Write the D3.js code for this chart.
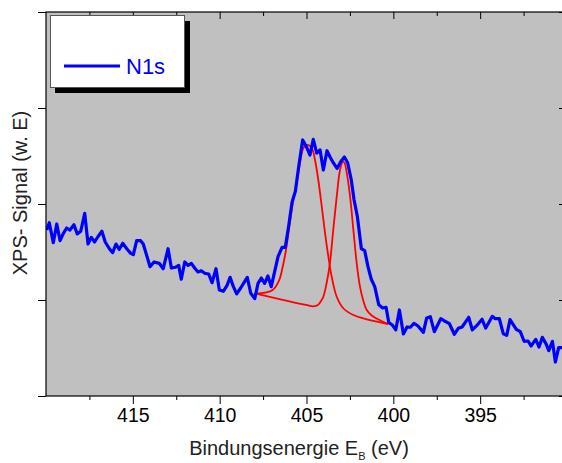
<!DOCTYPE html>
<html>
<head>
<meta charset="utf-8">
<script src="https://cdn.jsdelivr.net/npm/d3@7"></script>
<style>
  body { margin: 0; background: #fff; }
  svg { display: block; }
</style>
</head>
<body>
<div id="chart"></div>
<script>
// N1s XPS spectrum, binding energy in eV, signal in arbitrary units
const spectrumEnergy = [
  419.96, 419.81, 419.58, 419.38, 419.19, 419.00, 418.81, 418.62, 418.39, 418.20,
  418.00, 417.77, 417.58, 417.39, 417.20, 417.01, 416.78, 416.59, 416.35, 416.16,
  415.97, 415.78, 415.58, 415.35, 415.12, 414.97, 414.78, 414.55, 414.40, 414.17,
  414.01, 413.78, 413.48, 413.25, 412.97, 412.78, 412.55, 412.36, 412.21, 412.01,
  411.82, 411.63, 411.44, 411.25, 411.06, 410.86, 410.63, 410.44, 410.21, 410.02,
  409.79, 409.59, 409.40, 409.21, 409.02, 408.79, 408.60, 408.41, 408.21, 407.98,
  407.79, 407.60, 407.41, 407.22, 407.03, 406.83, 406.64, 406.41, 406.22, 406.02,
  405.83, 405.64, 405.45, 405.22, 404.99, 404.80, 404.61, 404.41, 404.22, 404.03,
  403.82, 403.65, 403.46, 403.24, 403.03, 402.82, 402.63, 402.42, 402.26, 402.07,
  401.84, 401.65, 401.46, 401.27, 401.07, 400.84, 400.61, 400.42, 400.26, 400.06,
  399.86, 399.65, 399.42, 399.21, 399.02, 398.81, 398.58, 398.27, 398.08, 397.87,
  397.64, 397.27, 397.08, 396.77, 396.49, 396.26, 396.04, 395.66, 395.45, 395.20,
  394.89, 394.68, 394.30, 394.13, 393.90, 393.67, 393.47, 393.28, 392.92, 392.69,
  392.47, 392.24, 392.07, 391.80, 391.61, 391.42, 391.19, 391.05, 390.84, 390.67,
  390.48, 390.29, 390.05
];
const spectrumSignal = [
  1.729, 1.805, 1.597, 1.792, 1.618, 1.695, 1.750, 1.729, 1.784, 1.688,
  1.716, 1.903, 1.583, 1.653, 1.604, 1.659, 1.716, 1.604, 1.534, 1.493,
  1.583, 1.528, 1.591, 1.534, 1.486, 1.472, 1.618, 1.618, 1.583, 1.445,
  1.347, 1.396, 1.382, 1.326, 1.534, 1.333, 1.341, 1.361, 1.216, 1.396,
  1.361, 1.382, 1.333, 1.292, 1.305, 1.278, 1.271, 1.180, 1.326, 1.104,
  1.091, 1.146, 1.236, 1.139, 1.063, 1.125, 1.180, 1.236, 1.070, 1.014,
  1.174, 1.229, 1.174, 1.250, 1.139, 1.299, 1.451, 1.549, 1.549, 1.778,
  2.021, 2.132, 2.389, 2.667, 2.590, 2.510, 2.674, 2.531, 2.563, 2.354,
  2.555, 2.493, 2.430, 2.370, 2.441, 2.490, 2.430, 2.250, 2.042, 1.868,
  1.534, 1.514, 1.347, 1.216, 1.139, 0.951, 0.917, 0.924, 0.764, 0.740,
  0.688, 0.896, 0.646, 0.719, 0.716, 0.757, 0.729, 0.663, 0.813, 0.826,
  0.670, 0.805, 0.784, 0.753, 0.643, 0.705, 0.719, 0.820, 0.688, 0.732,
  0.799, 0.708, 0.830, 0.805, 0.807, 0.649, 0.632, 0.795, 0.695, 0.670,
  0.570, 0.573, 0.521, 0.590, 0.510, 0.611, 0.538, 0.472, 0.570, 0.354,
  0.503, 0.503, 0.520
];

// fitted component near 405 eV (with background)
const fitAEnergy = [
  407.98, 407.39, 406.95, 406.57, 406.37, 406.18, 405.99, 405.79, 405.60, 405.41,
  405.18, 404.99, 404.80, 404.65, 404.51, 404.32, 404.12, 403.93, 403.74, 403.55,
  403.26, 402.88, 402.30, 401.53, 400.88, 400.31
];
const fitASignal = [
  1.070, 1.078, 1.104, 1.208, 1.347, 1.521, 1.764, 2.007, 2.180, 2.389,
  2.583, 2.615, 2.604, 2.563, 2.458, 2.250, 1.972, 1.695, 1.451, 1.243,
  1.034, 0.914, 0.844, 0.799, 0.771, 0.750
];

// fitted component near 403 eV (with background)
const fitBEnergy = [
  407.98, 405.03, 404.61, 404.34, 404.16, 404.03, 403.84, 403.65, 403.46, 403.26,
  403.07, 402.91, 402.81, 402.68, 402.49, 402.30, 402.11, 401.92, 401.74, 401.53,
  401.28, 400.96, 400.31
];
const fitBSignal = [
  1.070, 0.948, 0.934, 0.948, 0.990, 1.034, 1.177, 1.385, 1.729, 2.076,
  2.354, 2.441, 2.427, 2.323, 2.076, 1.729, 1.385, 1.139, 1.000, 0.896,
  0.844, 0.807, 0.750
];

const xMajorTicks = [415, 410, 405, 400, 395];
const xMinorTicks = [417.5, 412.5, 407.5, 402.5, 397.5, 392.5];
const yMajorTicks = [0, 1, 2, 3, 4];
const legendLabel = "N1s";

const width = 562, height = 463;
const plotLeft = 46, plotTop = 12, plotRight = 567, plotBottom = 396;
const font = "'Liberation Sans', Arial, Helvetica, sans-serif";

const svg = d3.select("#chart").append("svg")
  .attr("width", width)
  .attr("height", height)
  .style("font-family", font);

const x = d3.scaleLinear().domain([420, 390]).range([plotLeft, plotRight]);
const y = d3.scaleLinear().domain([0, 4]).range([plotBottom, plotTop]);

// plot background
svg.append("rect")
  .attr("x", plotLeft).attr("y", plotTop)
  .attr("width", plotRight - plotLeft).attr("height", plotBottom - plotTop)
  .attr("fill", "#c0c0c0");

svg.append("defs").append("clipPath").attr("id", "plotClip")
  .append("rect")
  .attr("x", plotLeft).attr("y", plotTop)
  .attr("width", plotRight - plotLeft).attr("height", plotBottom - plotTop);

const zip = (xs, ys) => xs.map((e, i) => [e, ys[i]]);

const lineStraight = d3.line().x(d => x(d[0])).y(d => y(d[1]));
const lineSmooth = d3.line().x(d => x(d[0])).y(d => y(d[1])).curve(d3.curveCatmullRom.alpha(0.5));

const plot = svg.append("g").attr("clip-path", "url(#plotClip)");

// fit components (red)
[zip(fitAEnergy, fitASignal), zip(fitBEnergy, fitBSignal)].forEach(pts => {
  plot.append("path")
    .attr("d", lineSmooth(pts))
    .attr("fill", "none")
    .attr("stroke", "#ff0000")
    .attr("stroke-width", 1.8);
});

// measured spectrum (blue)
plot.append("path")
  .attr("d", lineStraight(zip(spectrumEnergy, spectrumSignal)))
  .attr("fill", "none")
  .attr("stroke", "#0000ff")
  .attr("stroke-width", 3.2)
  .attr("stroke-linejoin", "round");

// axes
function styleAxis(g) {
  g.select(".domain").remove();
  g.selectAll("line").attr("stroke", "#000").attr("stroke-width", 1);
}

svg.append("g")
  .attr("transform", `translate(0,${plotBottom})`)
  .call(d3.axisBottom(x).tickValues(xMajorTicks).tickSize(8).tickPadding(4).tickFormat(d3.format("d")))
  .call(styleAxis)
  .call(g => g.selectAll("text")
    .attr("font-size", 19.5).attr("font-family", font).attr("fill", "#000"));

svg.append("g")
  .attr("transform", `translate(0,${plotBottom})`)
  .call(d3.axisBottom(x).tickValues(xMinorTicks).tickSize(4).tickFormat(""))
  .call(styleAxis);

svg.append("g")
  .attr("transform", `translate(0,${plotTop})`)
  .call(d3.axisTop(x).tickValues(xMajorTicks).tickSize(-7).tickFormat(""))
  .call(styleAxis);

svg.append("g")
  .attr("transform", `translate(0,${plotTop})`)
  .call(d3.axisTop(x).tickValues(xMinorTicks).tickSize(-4).tickFormat(""))
  .call(styleAxis);

svg.append("g")
  .attr("transform", `translate(${plotLeft},0)`)
  .call(d3.axisLeft(y).tickValues(yMajorTicks).tickSize(8).tickFormat(""))
  .call(styleAxis);

svg.append("g")
  .attr("transform", `translate(${plotRight},0)`)
  .call(d3.axisRight(y).tickValues(yMajorTicks).tickSize(-8).tickFormat(""))
  .call(styleAxis);

// frame
svg.append("rect")
  .attr("x", plotLeft).attr("y", plotTop)
  .attr("width", plotRight - plotLeft).attr("height", plotBottom - plotTop)
  .attr("fill", "none")
  .attr("stroke", "#000")
  .attr("stroke-width", 1.2);

// axis titles
const xTitle = svg.append("text")
  .attr("x", 299)
  .attr("y", 455)
  .attr("text-anchor", "middle")
  .attr("font-size", 20)
  .attr("fill", "#222");
xTitle.append("tspan").text("Bindungsenergie E");
xTitle.append("tspan").attr("font-size", 11).attr("dy", 5).text("B");
xTitle.append("tspan").attr("dy", -5).text(" (eV)");

svg.append("text")
  .attr("transform", "translate(27,193) rotate(-90)")
  .attr("text-anchor", "middle")
  .attr("font-size", 20)
  .attr("fill", "#222")
  .text("XPS- Signal (w. E)");

// legend
const legend = svg.append("g");
legend.append("rect")
  .attr("x", 55).attr("y", 21)
  .attr("width", 135).attr("height", 72)
  .attr("fill", "#000");
legend.append("rect")
  .attr("x", 50.5).attr("y", 15.5)
  .attr("width", 134).attr("height", 72)
  .attr("fill", "#fff")
  .attr("stroke", "#555")
  .attr("stroke-width", 1);
legend.append("line")
  .attr("x1", 64).attr("x2", 120)
  .attr("y1", 66).attr("y2", 66)
  .attr("stroke", "#0000ff")
  .attr("stroke-width", 3);
legend.append("text")
  .attr("x", 126).attr("y", 74)
  .attr("font-size", 22)
  .attr("fill", "#0000ff")
  .text(legendLabel);
</script>
</body>
</html>
